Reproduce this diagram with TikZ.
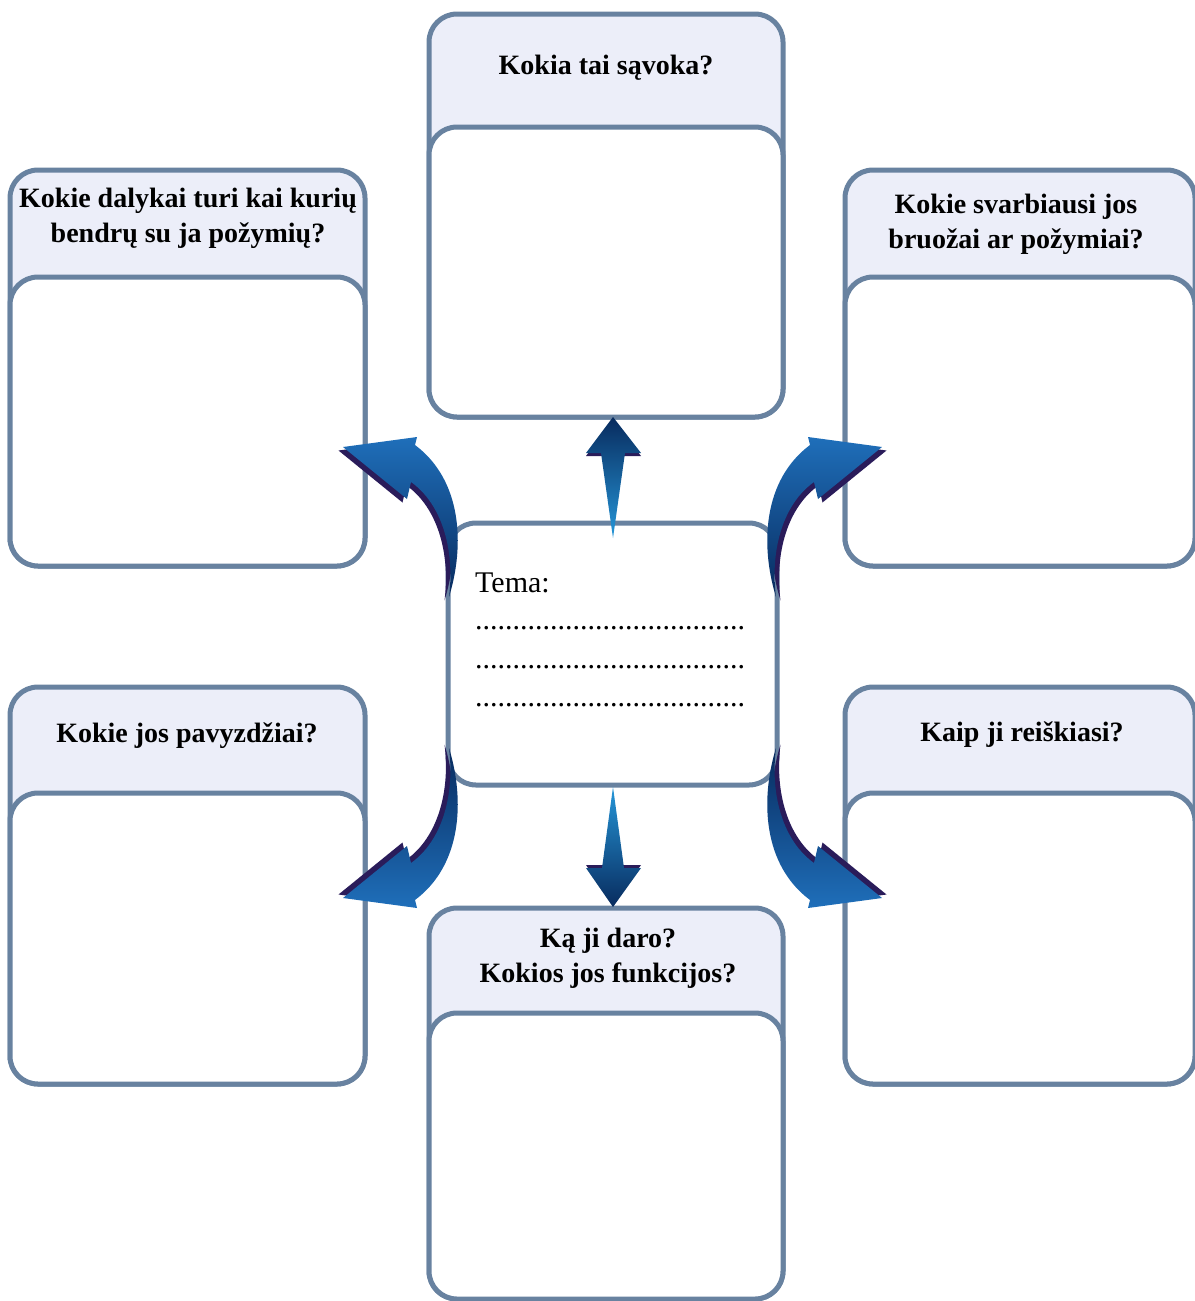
\documentclass[tikz,border=0pt]{standalone}
\usepackage{fontspec}
\setmainfont{Liberation Serif}
\definecolor{edgec}{HTML}{6882A0}
\definecolor{hdrc}{HTML}{ECEEF9}
\definecolor{navyc}{HTML}{082B5E}
\definecolor{lbluec}{HTML}{2596D8}
\definecolor{mbluec}{HTML}{1F6FBA}
\definecolor{shadowc}{HTML}{2A1C5A}
\tikzset{
  card/.style={draw=edgec, line width=5pt, rounded corners=28pt, inner sep=0pt, shape=rectangle},
  hdrbox/.style={card, fill=hdrc},
  bodybox/.style={card, fill=white},
  hdrtext/.style={font=\fontsize{28}{34}\selectfont\bfseries, anchor=base, inner sep=0pt, text=black},
  tematext/.style={font=\fontsize{30}{36}\selectfont, anchor=base west, inner sep=0pt, text=black},
}
\newcommand\CurvedArrow[2]{%
  \fill[shadowc, shift={(-4.5,3.5)}] (0,0) .. controls (16,-52) and (13,-117) .. (-34,-152) -- (-32,-160) -- (-106,-150) -- (-42,-98) -- (-38,-115) .. controls (-7,-93) and (6,-47) .. (0,0) -- cycle;
  \shade[top color=#1, middle color=lbluec, bottom color=#2] (0,0) .. controls (16,-52) and (13,-117) .. (-34,-152) -- (-32,-160) -- (-106,-150) -- (-42,-98) -- (-38,-115) .. controls (-7,-93) and (6,-47) .. (0,0) -- cycle;
}
\begin{document}
\begin{tikzpicture}[x=1pt, y=-1pt]
\useasboundingbox (0,0) rectangle (1194,1301);
% top card
\node[hdrbox, minimum width=354pt, minimum height=403pt] (T) at (606,215.5) {};
\node[bodybox, minimum width=354pt, minimum height=290pt] (Tb) at (606,272) {};
\node[hdrtext] (Tt) at (606,74) {Kokia tai sąvoka?};
% left upper card
\node[hdrbox, minimum width=355pt, minimum height=396pt] (LU) at (187.5,368) {};
\node[bodybox, minimum width=355pt, minimum height=289pt] (LUb) at (187.5,421.5) {};
\node[hdrtext] (LUt1) at (188,207) {Kokie dalykai turi kai kurių};
\node[hdrtext] (LUt2) at (188,242) {bendrų su ja požymių?};
% right upper card
\node[hdrbox, minimum width=350pt, minimum height=396pt] (RU) at (1020,368) {};
\node[bodybox, minimum width=350pt, minimum height=289pt] (RUb) at (1020,421.5) {};
\node[hdrtext] (RUt1) at (1016,213) {Kokie svarbiausi jos};
\node[hdrtext] (RUt2) at (1016,248) {bruožai ar požymiai?};
% left lower card
\node[hdrbox, minimum width=355pt, minimum height=397pt] (LL) at (187.5,885.5) {};
\node[bodybox, minimum width=355pt, minimum height=291pt] (LLb) at (187.5,938.5) {};
\node[hdrtext] (LLt) at (187,742) {Kokie jos pavyzdžiai?};
% right lower card
\node[hdrbox, minimum width=350pt, minimum height=397pt] (RL) at (1020,885.5) {};
\node[bodybox, minimum width=350pt, minimum height=291pt] (RLb) at (1020,938.5) {};
\node[hdrtext] (RLt) at (1022,741) {Kaip ji reiškiasi?};
% bottom card
\node[hdrbox, minimum width=354pt, minimum height=391pt] (B) at (606,1103.5) {};
\node[bodybox, minimum width=354pt, minimum height=286pt] (Bb) at (606,1156) {};
\node[hdrtext] (Bt1) at (608,947) {Ką ji daro?};
\node[hdrtext] (Bt2) at (608,982) {Kokios jos funkcijos?};
% centre
\node[bodybox, minimum width=329pt, minimum height=262pt] (C) at (612.5,654) {};
\node[tematext] (tema) at (475,592) {Tema:};
\node[tematext] (d1) at (475,629) {....................................};
\node[tematext] (d2) at (475,668) {....................................};
\node[tematext] (d3) at (475,706) {....................................};
% straight arrows
\fill[shadowc] (613,420) -- (641,456) -- (586,456) -- cycle;
\shade[top color=navyc, middle color=lbluec, bottom color=lbluec] (613,417) -- (641,453) -- (625,453) -- (613,538) -- (601,453) -- (586,453) -- cycle;
\fill[shadowc] (613,904) -- (641,865) -- (586,865) -- cycle;
\shade[top color=lbluec, middle color=lbluec, bottom color=navyc] (613,787) -- (624,868) -- (641,868) -- (613,907) -- (586,868) -- (602,868) -- cycle;
% curved arrows
\begin{scope}[shift={(449,597)}]
  \CurvedArrow{mbluec}{navyc}
\end{scope}
\begin{scope}[shift={(776,597)}, xscale=-1]
  \CurvedArrow{mbluec}{navyc}
\end{scope}
\begin{scope}[shift={(449,748)}, yscale=-1]
  \CurvedArrow{navyc}{mbluec}
\end{scope}
\begin{scope}[shift={(776,748)}, xscale=-1, yscale=-1]
  \CurvedArrow{navyc}{mbluec}
\end{scope}
\end{tikzpicture}
\end{document}
